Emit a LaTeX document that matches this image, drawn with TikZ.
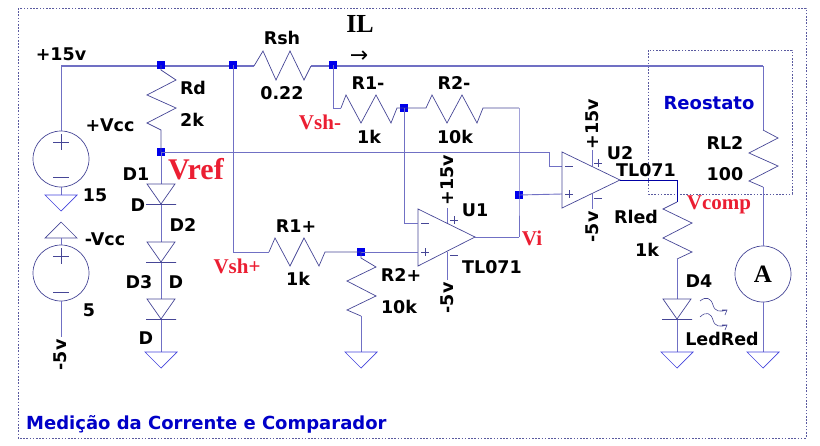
\documentclass[tikz,border=0pt]{standalone}
\usepackage{fontspec}
\setmainfont{DejaVu Sans}
\newfontfamily\serifbold{Liberation Serif}
\definecolor{wirec}{RGB}{112,112,196}
\definecolor{symc}{RGB}{70,70,150}
\definecolor{juncc}{RGB}{0,0,235}
\definecolor{frmc}{RGB}{90,90,160}
\definecolor{redlab}{RGB}{235,30,50}
\definecolor{titlec}{RGB}{0,0,200}
\tikzset{
  wire/.style={draw=wirec,line width=0.9pt},
  bus/.style={draw=wirec,line width=2.1pt},
  sym/.style={draw=symc,line width=0.7pt,line join=miter},
  frm/.style={draw=frmc,line width=0.8pt,dash pattern=on 1.6pt off 1.6pt},
  junc/.style={fill=juncc,draw=none,minimum size=8.5pt,inner sep=0pt,rectangle},
  lab/.style={font=\fontsize{17.5}{20}\selectfont\bfseries,inner sep=0pt,text=black},
  rlab/.style={font=\fontsize{21}{22}\serifbold\bfseries,inner sep=0pt,text=redlab},
  blab/.style={font=\fontsize{18}{20}\selectfont\bfseries,inner sep=0pt,text=titlec},
  vlab/.style={lab,rotate=90},
  lsgnd/.pic={\draw[sym,draw=wirec!60!blue] (-16,0) -- (16,0) -- (0,16) -- cycle;},
  lsdiode/.pic={\draw[sym] (-14,0) -- (14,0) -- (0,20) -- cycle (-15,20.5) -- (15,20.5);},
}
\begin{document}
\begin{tikzpicture}[x=1pt,y=-1pt]
\useasboundingbox (0,0) rectangle (820,445);
% frames
\draw[frm] (18,8) rectangle (806,438);
\draw[frm] (648,50) rectangle (792,194);
% named points
\coordinate (tl) at (61,66);
\coordinate (tr) at (763,66);
\coordinate (rshA) at (254,66);
\coordinate (rshB) at (311,66);
% bus
\draw[bus] (tl) -- (rshA);
\draw[bus] (rshB) -- (tr);
% Rsh
\draw[sym] (rshA) -- (263,51) -- (276,80) -- (290,51) -- (304,80) -- (rshB);
\node[junc] (j1) at (161,65) {};
\node[junc] (j2) at (233,65) {};
\node[junc] (j3) at (333,65) {};
\node[junc] (j4) at (161,152) {};
\node[junc] (j5) at (404,108) {};
\node[junc] (j6) at (519,195) {};
\node[junc] (j7) at (361,252) {};
% sources
\node[circle,sym,draw,minimum size=56pt,inner sep=0pt] (v1) at (61,159) {};
\node[circle,sym,draw,minimum size=56pt,inner sep=0pt] (v2) at (61,273) {};
\draw[wire] (tl) -- (v1.north);
\draw[sym] (53,142) -- (69,142) (61,134) -- (61,150) (53,177) -- (69,177);
\draw[sym] (53,256) -- (69,256) (61,248) -- (61,264) (53,292) -- (69,292);
\coordinate (g1) at (61,195);
\coordinate (g2) at (61,238);
\coordinate (v2end) at (61,337);
\draw[wire] (v1.south) -- (g1);
\pic at (g1) {lsgnd};
\draw[sym] (45,238) -- (77,238) -- (61,222) -- cycle;
\draw[wire] (g2) -- (v2.north);
\draw[wire] (v2.south) -- (v2end);
% Rd
\draw[sym] (j1.center) -- (161,70) -- (176,80) -- (147,95) -- (176,108) -- (147,123) -- (161,130) -- (j4.center);
% diodes
\coordinate (d1) at (161,184);
\coordinate (d2) at (161,242);
\coordinate (d3) at (161,299);
\coordinate (g3) at (161,352);
\draw[wire] (j4.center) -- (d1);
\draw[wire] (161,205) -- (d2) (161,262) -- (d3) (161,320) -- (g3);
\pic at (d1) {lsdiode};
\pic at (d2) {lsdiode};
\pic at (d3) {lsdiode};
\pic at (g3) {lsgnd};
% Vref line
\coordinate (vr1) at (549,152);
\coordinate (vr2) at (549,166);
\coordinate (u2m) at (562,166);
\draw[wire] (j4.center) -- (vr1) -- (vr2) -- (u2m);
% R1- R2-
\coordinate (r1a) at (333,108);
\coordinate (r2e) at (519,108);
\coordinate (u1o) at (519,237);
\coordinate (u2p) at (562,194);
\draw[wire] (j3.center) -- (r1a) -- (341,108);
\draw[sym] (341,108) -- (346,95) -- (361,123) -- (376,95) -- (391,123) -- (397,108) -- (j5.center);
\draw[sym] (j5.center) -- (426,108) -- (432,95) -- (447,123) -- (462,95) -- (477,123) -- (483,108) -- (r2e);
\draw[wire] (r2e) -- (j6.center) -- (u1o);
\draw[wire] (j6.center) -- (u2p);
% U1
\coordinate (u1a) at (475,237);
\coordinate (u1m) at (418,223);
\coordinate (u1p) at (418,252);
\draw[sym] (418,209) -- (418,266) -- (u1a) -- cycle;
\draw[wire] (u1a) -- (u1o);
\draw[wire] (j5.center) -- (404,223) -- (u1m);
\draw[wire] (j7.center) -- (u1p);
\draw[wire] (447,208) -- (447,223) (447,252) -- (447,280);
\draw[sym] (421,223) -- (429,223) (421,252) -- (429,252) (425,248) -- (425,256);
\draw[sym] (450,220) -- (458,220) (454,216) -- (454,224) (450,255) -- (458,255);
% R1+
\coordinate (rpa) at (233,252);
\draw[wire] (j2.center) -- (rpa) -- (269,252);
\draw[sym] (269,252) -- (275,238) -- (290,266) -- (304,238) -- (319,266) -- (325,252) -- (j7.center);
% R2+
\coordinate (g4) at (361,352);
\draw[sym] (j7.center) -- (361,258) -- (376,267) -- (347,281) -- (376,296) -- (347,310) -- (361,316);
\draw[wire] (361,316) -- (g4);
\pic at (g4) {lsgnd};
% U2
\coordinate (u2a) at (620,180);
\draw[sym] (562,152) -- (562,208) -- (u2a) -- cycle;
\draw[wire] (592,150) -- (592,166) (592,194) -- (592,209);
\draw[sym] (565,166) -- (573,166) (565,194) -- (573,194) (569,190) -- (569,198);
\draw[sym] (594,163) -- (602,163) (598,159) -- (598,167) (594,198) -- (602,198);
\coordinate (o2) at (677,180);
\coordinate (rl0) at (677,202);
\coordinate (d4) at (677,299);
\coordinate (g5) at (677,352);
\draw[draw=juncc!70!black,line width=0.8pt] (u2a) -- (o2) -- (rl0);
\draw[sym] (rl0) -- (663,209) -- (692,223) -- (663,238) -- (692,252) -- (677,259);
\draw[wire] (677,259) -- (d4) (677,320) -- (g5);
\pic at (d4) {lsdiode};
\pic at (g5) {lsgnd};
\draw[sym,line width=0.6pt] (700,301) .. controls (706,296) and (711,298) .. (713,305) .. controls (715,312) and (720,312) .. (727,310) (722,310) -- (727,310) -- (725,315);
\draw[sym,line width=0.6pt] (700,317) .. controls (706,311) and (711,313) .. (713,320) .. controls (715,327) and (720,327) .. (727,325) (722,325) -- (727,325) -- (725,330);
% RL2, ammeter
\coordinate (rl2a) at (763,130);
\coordinate (g6) at (763,352);
\node[circle,sym,draw,minimum size=56pt,inner sep=0pt,font=\fontsize{25}{25}\serifbold\bfseries] (am) at (763,274) {A};
\draw[wire] (tr) -- (rl2a);
\draw[sym] (rl2a) -- (778,138) -- (749,153) -- (778,166) -- (749,181) -- (763,187);
\draw[wire] (763,187) -- (am.north);
\draw[wire] (am.south) -- (g6);
\pic at (g6) {lsgnd};
% labels
\node[lab] (l1) at (61,54) {+15v};
\node[lab] (l2) at (282,38) {Rsh};
\node[lab] (l3) at (282,93) {0.22};
\node[font=\fontsize{26}{26}\serifbold\bfseries,inner sep=0pt] (l4) at (360,24) {IL};
\node[font=\fontsize{22}{22}\selectfont,inner sep=0pt] (l5) at (359,57) {→};
\node[lab] (l6) at (193,88) {Rd};
\node[lab] (l7) at (192,120) {2k};
\node[lab] (l8) at (110,125) {+Vcc};
\node[lab] (l9) at (136,174) {D1};
\node[rlab,font=\fontsize{30}{30}\serifbold\bfseries] (l10) at (196,169) {Vref};
\node[lab] (l11) at (138,205) {D};
\node[lab] (l12) at (183,225) {D2};
\node[lab] (l13) at (139,282) {D3};
\node[lab] (l14) at (176,282) {D};
\node[lab] (l15) at (146,338) {D};
\node[lab] (l16) at (95,195) {15};
\node[lab] (l17) at (105,239) {-Vcc};
\node[lab] (l18) at (89,310) {5};
\node[vlab] (l19) at (60,355) {-5v};
\node[rlab] (l20) at (320,122) {Vsh-};
\node[lab] (l21) at (368,83) {R1-};
\node[lab] (l22) at (369,137) {1k};
\node[lab] (l23) at (454,83) {R2-};
\node[lab] (l24) at (455,137) {10k};
\node[rlab] (l25) at (237,266) {Vsh+};
\node[lab] (l26) at (296,226) {R1+};
\node[lab] (l27) at (298,279) {1k};
\node[lab] (l28) at (401,275) {R2+};
\node[lab] (l29) at (399,307) {10k};
\node[lab] (l30) at (475,210) {U1};
\node[lab] (l31) at (492,267) {TL071};
\node[rlab] (l32) at (532,238) {Vi};
\node[vlab] (l33) at (447,180) {+15v};
\node[vlab] (l34) at (447,298) {-5v};
\node[vlab] (l35) at (592,124) {+15v};
\node[vlab] (l36) at (592,227) {-5v};
\node[lab] (l37) at (620,153) {U2};
\node[lab] (l38) at (646,170) {TL071};
\node[lab] (l39) at (636,217) {Rled};
\node[lab] (l40) at (647,250) {1k};
\node[lab] (l41) at (699,281) {D4};
\node[lab] (l42) at (722,339) {LedRed};
\node[rlab] (l43) at (719,205) {Vcomp};
\node[blab] (l44) at (709,103) {Reostato};
\node[lab] (l45) at (725,143) {RL2};
\node[lab] (l46) at (725,174) {100};
\node[blab,anchor=west] (l47) at (26,424) {Medição da Corrente e Comparador};
\end{tikzpicture}
\end{document}
